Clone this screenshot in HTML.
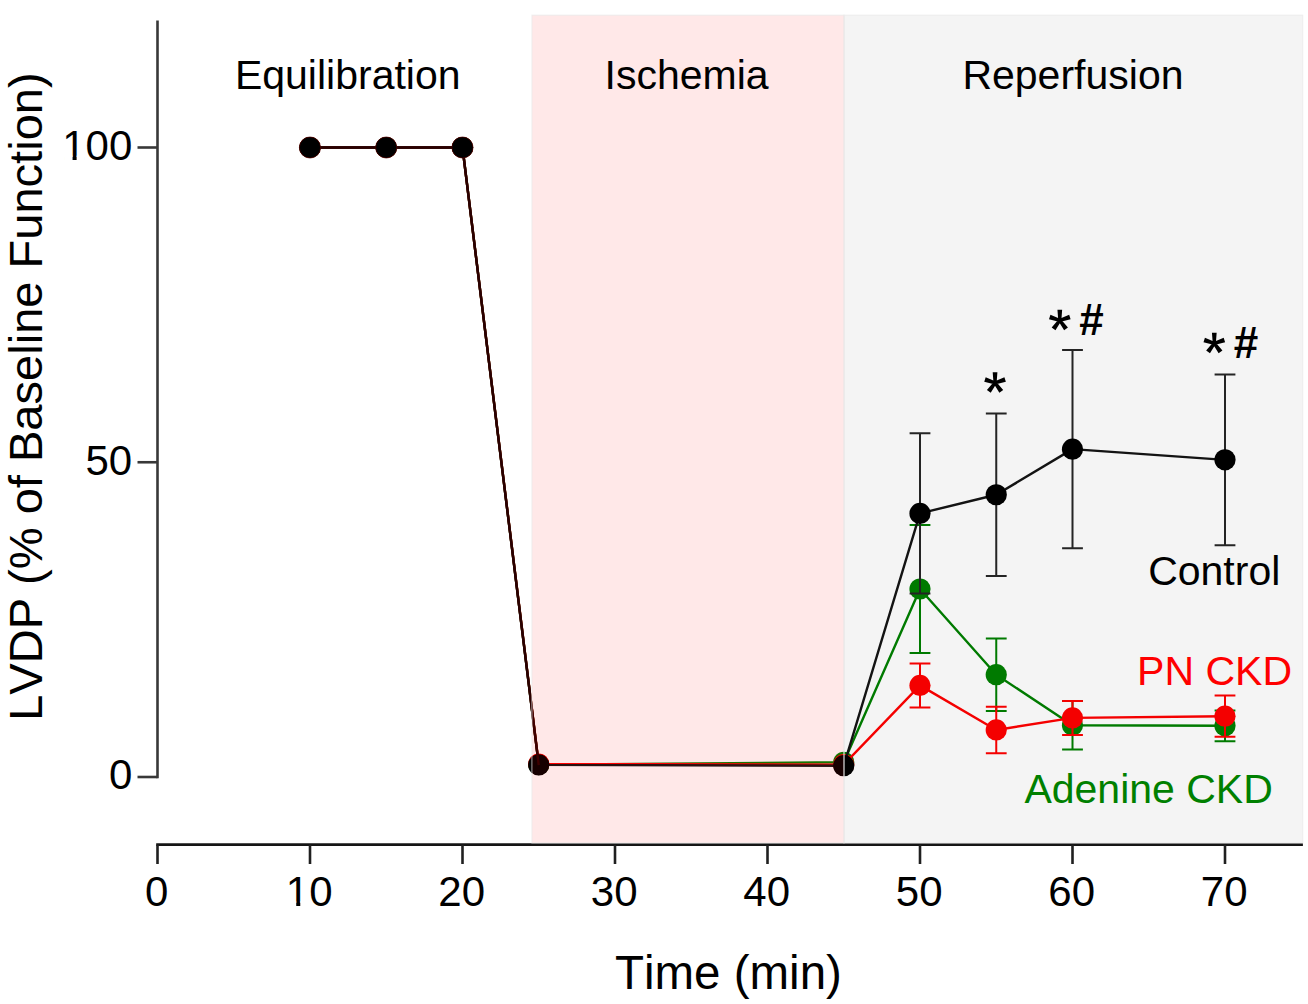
<!DOCTYPE html><html><head><meta charset="utf-8"><style>html,body{margin:0;padding:0;background:#fff;}svg{display:block}</style></head><body>
<svg width="1308" height="1004" viewBox="0 0 1308 1004" font-family='"Liberation Sans", sans-serif' style="font-kerning:none">
<rect width="1308" height="1004" fill="#fff"/>
<line x1="157.5" y1="20.5" x2="157.5" y2="778.3" stroke="#383838" stroke-width="2.6"/>
<line x1="137.5" y1="777.00" x2="157.5" y2="777.00" stroke="#383838" stroke-width="2.6"/>
<line x1="137.5" y1="462.25" x2="157.5" y2="462.25" stroke="#383838" stroke-width="2.6"/>
<line x1="137.5" y1="147.50" x2="157.5" y2="147.50" stroke="#383838" stroke-width="2.6"/>
<line x1="156.2" y1="844.6" x2="1302.9" y2="844.6" stroke="#151515" stroke-width="2.7"/>
<line x1="157.50" y1="844.6" x2="157.50" y2="864" stroke="#202020" stroke-width="2.6"/>
<line x1="310.00" y1="844.6" x2="310.00" y2="864" stroke="#202020" stroke-width="2.6"/>
<line x1="462.50" y1="844.6" x2="462.50" y2="864" stroke="#202020" stroke-width="2.6"/>
<line x1="615.00" y1="844.6" x2="615.00" y2="864" stroke="#202020" stroke-width="2.6"/>
<line x1="767.50" y1="844.6" x2="767.50" y2="864" stroke="#202020" stroke-width="2.6"/>
<line x1="920.00" y1="844.6" x2="920.00" y2="864" stroke="#202020" stroke-width="2.6"/>
<line x1="1072.50" y1="844.6" x2="1072.50" y2="864" stroke="#202020" stroke-width="2.6"/>
<line x1="1225.00" y1="844.6" x2="1225.00" y2="864" stroke="#202020" stroke-width="2.6"/>
<path d="M920.00 525.00V653.00M909.60 525.00H930.40M909.60 653.00H930.40" stroke="#008000" stroke-width="2.0" fill="none"/>
<path d="M996.25 638.50V710.90M985.85 638.50H1006.65M985.85 710.90H1006.65" stroke="#008000" stroke-width="2.0" fill="none"/>
<path d="M1072.50 701.00V749.40M1062.10 701.00H1082.90M1062.10 749.40H1082.90" stroke="#008000" stroke-width="2.0" fill="none"/>
<path d="M1225.00 710.40V741.20M1214.60 710.40H1235.40M1214.60 741.20H1235.40" stroke="#008000" stroke-width="2.0" fill="none"/>
<path d="M310.00 147.50 L386.25 147.50 L462.50 147.50 L538.75 764.60 L843.75 762.30 L920.00 589.00 L996.25 674.70 L1072.50 725.20 L1225.00 725.80" stroke="#008000" stroke-width="2.4" fill="none" stroke-linejoin="round"/>
<circle cx="310.00" cy="147.50" r="10.6" fill="#008000"/>
<circle cx="386.25" cy="147.50" r="10.6" fill="#008000"/>
<circle cx="462.50" cy="147.50" r="10.6" fill="#008000"/>
<circle cx="538.75" cy="764.60" r="10.6" fill="#008000"/>
<circle cx="843.75" cy="762.30" r="10.6" fill="#008000"/>
<circle cx="920.00" cy="589.00" r="10.6" fill="#008000"/>
<circle cx="996.25" cy="674.70" r="10.6" fill="#008000"/>
<circle cx="1072.50" cy="725.20" r="10.6" fill="#008000"/>
<circle cx="1225.00" cy="725.80" r="10.6" fill="#008000"/>
<path d="M920.00 663.40V707.40M909.60 663.40H930.40M909.60 707.40H930.40" stroke="#ff0000" stroke-width="2.0" fill="none"/>
<path d="M996.25 706.70V753.20M985.85 706.70H1006.65M985.85 753.20H1006.65" stroke="#ff0000" stroke-width="2.0" fill="none"/>
<path d="M1072.50 700.90V734.90M1062.10 700.90H1082.90M1062.10 734.90H1082.90" stroke="#ff0000" stroke-width="2.0" fill="none"/>
<path d="M1225.00 695.60V736.80M1214.60 695.60H1235.40M1214.60 736.80H1235.40" stroke="#ff0000" stroke-width="2.0" fill="none"/>
<path d="M310.00 147.50 L386.25 147.50 L462.50 147.50 L538.75 764.00 L843.75 764.60 L920.00 685.40 L996.25 729.95 L1072.50 717.90 L1225.00 716.20" stroke="#ff0000" stroke-width="2.4" fill="none" stroke-linejoin="round"/>
<circle cx="310.00" cy="147.50" r="10.6" fill="#ff0000"/>
<circle cx="386.25" cy="147.50" r="10.6" fill="#ff0000"/>
<circle cx="462.50" cy="147.50" r="10.6" fill="#ff0000"/>
<circle cx="538.75" cy="764.00" r="10.6" fill="#ff0000"/>
<circle cx="843.75" cy="764.60" r="10.6" fill="#ff0000"/>
<circle cx="920.00" cy="685.40" r="10.6" fill="#ff0000"/>
<circle cx="996.25" cy="729.95" r="10.6" fill="#ff0000"/>
<circle cx="1072.50" cy="717.90" r="10.6" fill="#ff0000"/>
<circle cx="1225.00" cy="716.20" r="10.6" fill="#ff0000"/>
<path d="M920.00 433.30V593.50M909.60 433.30H930.40M909.60 593.50H930.40" stroke="#262626" stroke-width="2.0" fill="none"/>
<path d="M996.25 413.60V575.90M985.85 413.60H1006.65M985.85 575.90H1006.65" stroke="#262626" stroke-width="2.0" fill="none"/>
<path d="M1072.50 350.00V548.30M1062.10 350.00H1082.90M1062.10 548.30H1082.90" stroke="#262626" stroke-width="2.0" fill="none"/>
<path d="M1225.00 374.50V545.20M1214.60 374.50H1235.40M1214.60 545.20H1235.40" stroke="#262626" stroke-width="2.0" fill="none"/>
<path d="M310.00 147.50 L386.25 147.50 L462.50 147.50 L538.75 764.90 L843.75 765.70 L920.00 513.40 L996.25 494.75 L1072.50 449.15 L1225.00 459.85" stroke="#141414" stroke-width="2.4" fill="none" stroke-linejoin="round"/>
<circle cx="310.00" cy="147.50" r="10.6" fill="#000000"/>
<circle cx="386.25" cy="147.50" r="10.6" fill="#000000"/>
<circle cx="462.50" cy="147.50" r="10.6" fill="#000000"/>
<circle cx="538.75" cy="764.90" r="10.6" fill="#000000"/>
<circle cx="843.75" cy="765.70" r="10.6" fill="#000000"/>
<circle cx="920.00" cy="513.40" r="10.6" fill="#000000"/>
<circle cx="996.25" cy="494.75" r="10.6" fill="#000000"/>
<circle cx="1072.50" cy="449.15" r="10.6" fill="#000000"/>
<circle cx="1225.00" cy="459.85" r="10.6" fill="#000000"/>
<path d="M310.00 147.5 H462.50 L538.75 765.2" stroke="#2a0000" stroke-width="2.4" fill="none" stroke-linejoin="round"/>
<circle cx="310.00" cy="147.5" r="10.6" fill="#000" stroke="#5a0000" stroke-width="0.6"/>
<circle cx="386.25" cy="147.5" r="10.6" fill="#000" stroke="#5a0000" stroke-width="0.6"/>
<circle cx="462.50" cy="147.5" r="10.6" fill="#000" stroke="#5a0000" stroke-width="0.6"/>
<rect x="531.90" y="15.2" width="312.10" height="827.80" fill="rgba(255,0,0,0.09)" stroke="rgba(232,232,232,0.65)" stroke-width="1.1"/>
<rect x="844.00" y="15.2" width="458.70" height="827.80" fill="rgba(0,0,0,0.045)" stroke="rgba(232,232,232,0.65)" stroke-width="1.1"/>
<text x="234.92" y="88.90" font-size="41" fill="#000" >Equilibration</text>
<text x="604.61" y="89.00" font-size="41" fill="#000" >Ischemia</text>
<text x="962.42" y="89.00" font-size="41" fill="#000" >Reperfusion</text>
<text x="1148.15" y="584.90" font-size="41" fill="#000" >Control</text>
<text x="1137.12" y="685.40" font-size="41" fill="#ff0000" >PN CKD</text>
<text x="1024.39" y="802.80" font-size="41" fill="#008000" >Adenine CKD</text>
<text x="108.89" y="789.40" font-size="42">0</text>
<text x="85.53" y="474.65" font-size="42">50</text>
<text x="62.18" y="159.90" font-size="42">100</text>
<rect x="64.28" y="155.70" width="8.29" height="5.20" fill="#fff"/>
<rect x="76.61" y="155.70" width="7.98" height="5.20" fill="#fff"/>
<text x="145.02" y="905.60" font-size="42">0</text>
<text x="285.84" y="905.60" font-size="42">10</text>
<rect x="287.94" y="901.40" width="8.29" height="5.20" fill="#fff"/>
<rect x="300.27" y="901.40" width="7.98" height="5.20" fill="#fff"/>
<text x="438.34" y="905.60" font-size="42">20</text>
<text x="590.84" y="905.60" font-size="42">30</text>
<text x="743.34" y="905.60" font-size="42">40</text>
<text x="895.84" y="905.60" font-size="42">50</text>
<text x="1048.34" y="905.60" font-size="42">60</text>
<text x="1200.84" y="905.60" font-size="42">70</text>
<text x="614.95" y="988.60" font-size="47.5" fill="#000" >Time (min)</text>
<text transform="translate(41.8 720.86) rotate(-90)" font-size="47.05">LVDP (% of Baseline Function)</text>
<path d="M996.50 384.30 L997.40 372.20 L992.70 372.20 L993.60 384.30ZM996.92 381.88 L985.69 377.29 L984.24 381.76 L996.03 384.64ZM994.76 380.73 L986.92 389.99 L990.72 392.76 L997.10 382.44ZM993.00 382.44 L999.38 392.76 L1003.18 389.99 L995.34 380.73ZM994.07 384.64 L1005.86 381.76 L1004.41 377.29 L993.18 381.88Z" fill="#000"/>
<path d="M1061.25 321.80 L1062.15 309.70 L1057.45 309.70 L1058.35 321.80ZM1061.67 319.38 L1050.44 314.79 L1048.99 319.26 L1060.78 322.14ZM1059.51 318.23 L1051.67 327.49 L1055.47 330.26 L1061.85 319.94ZM1057.75 319.94 L1064.13 330.26 L1067.93 327.49 L1060.09 318.23ZM1058.82 322.14 L1070.61 319.26 L1069.16 314.79 L1057.93 319.38Z" fill="#000"/>
<text x="1079.24" y="334.60" font-size="44" font-weight="bold">#</text>
<path d="M1215.75 344.80 L1216.65 332.70 L1211.95 332.70 L1212.85 344.80ZM1216.17 342.38 L1204.94 337.79 L1203.49 342.26 L1215.28 345.14ZM1214.01 341.23 L1206.17 350.49 L1209.97 353.26 L1216.35 342.94ZM1212.25 342.94 L1218.63 353.26 L1222.43 350.49 L1214.59 341.23ZM1213.32 345.14 L1225.11 342.26 L1223.66 337.79 L1212.43 342.38Z" fill="#000"/>
<text x="1233.64" y="357.60" font-size="44" font-weight="bold">#</text>
</svg></body></html>
